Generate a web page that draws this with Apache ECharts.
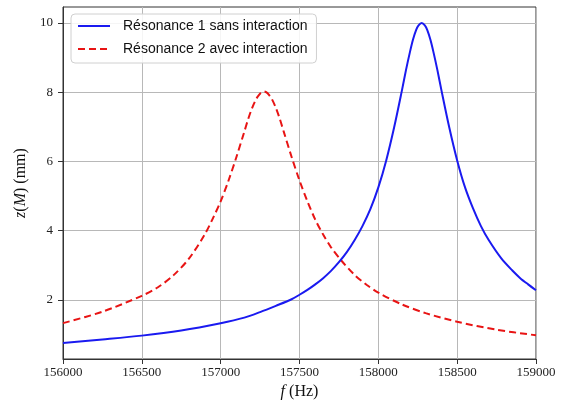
<!DOCTYPE html>
<html>
<head>
<meta charset="utf-8">
<script src="https://cdn.jsdelivr.net/npm/echarts@6/dist/echarts.min.js"></script>
<style>html,body{margin:0;padding:0;background:#fff}#c{width:565px;height:406px}</style>
</head>
<body>
<div id="c"></div>
<script>
// Frequencies (Hz) and amplitudes (mm)
const blueFreq = [156000,156250,156500,156750,157000,157150,157250,157350,157450,157500,157550,157600,157650,157700,157750,157800,157850,157900,157950,158000,158050,158100,158150,158175,158200,158220,158240,158255,158275,158295,158310,158330,158350,158375,158400,158450,158500,158550,158600,158650,158700,158780,158850,158900,158950,159000];
const blueVals = [0.76,0.86,0.97,1.12,1.33,1.49,1.65,1.83,2.02,2.15,2.29,2.45,2.63,2.84,3.09,3.38,3.73,4.14,4.63,5.25,6.03,6.98,8.06,8.63,9.15,9.52,9.8,9.93,10.0,9.93,9.8,9.52,9.15,8.63,8.06,6.98,6.03,5.25,4.65,4.14,3.73,3.2,2.85,2.63,2.45,2.28];
const redFreq = [156000,156250,156500,156600,156700,156800,156900,156950,157000,157050,157100,157150,157175,157200,157225,157240,157255,157275,157295,157310,157325,157350,157375,157400,157450,157500,157550,157600,157650,157700,157765,157850,157925,158000,158150,158300,158500,158750,159000];
const redVals = [1.33,1.66,2.12,2.36,2.71,3.2,3.9,4.35,4.85,5.45,6.13,6.86,7.23,7.55,7.8,7.9,7.98,8.02,7.98,7.9,7.8,7.55,7.23,6.86,6.13,5.45,4.85,4.32,3.89,3.52,3.14,2.72,2.44,2.21,1.87,1.62,1.37,1.14,0.98];
const xTicks = [156000,156500,157000,157500,158000,158500,159000];
const yTicks = [2,4,6,8,10];
const seriesNames = ['Résonance 1 sans interaction','Résonance 2 avec interaction'];

const pairs = (xs, ys) => xs.map((x, i) => [x, ys[i]]);
const serif = 'Liberation Serif';
const chart = echarts.init(document.getElementById('c'), null, {renderer: 'canvas'});
chart.setOption({
  animation: false,
  backgroundColor: '#fff',
  grid: {left: 63, right: 29, top: 7, bottom: 47, show: true, borderColor: '#333', borderWidth: 1, containLabel: false},
  legend: {
    orient: 'vertical', left: 71, top: 14,
    padding: [5, 9, 7, 6], itemGap: 9, itemWidth: 32, itemHeight: 14,
    backgroundColor: 'rgba(255,255,255,0.85)', borderColor: '#d0d0d0', borderWidth: 1, borderRadius: 4,
    itemStyle: {opacity: 0},
    textStyle: {fontFamily: 'Liberation Sans', fontSize: 14, color: '#111', padding: [0, 0, 0, 8]},
    data: seriesNames
  },
  xAxis: {
    type: 'value', min: xTicks[0], max: xTicks[xTicks.length - 1], interval: 500,
    name: '{i|f} (Hz)', nameLocation: 'middle', nameGap: 23,
    nameTextStyle: {fontFamily: serif, fontSize: 16, color: '#111', rich: {i: {fontFamily: serif, fontStyle: 'italic', fontSize: 16, color: '#111'}}},
    axisLine: {show: true, lineStyle: {color: '#333', width: 1}},
    axisTick: {show: true, inside: false, length: 5, lineStyle: {color: '#333'}},
    axisLabel: {fontFamily: serif, fontSize: 13, color: '#222', margin: 7, showMinLabel: true, showMaxLabel: true, formatter: v => String(v)},
    splitLine: {show: true, lineStyle: {color: '#b8b8b8', width: 1}}
  },
  yAxis: {
    type: 'value', min: 0.295, max: 10.46,
    name: '{i|z}({i|M}) (mm)', nameLocation: 'middle', nameGap: 27,
    nameTextStyle: {fontFamily: serif, fontSize: 16, color: '#111', rich: {i: {fontFamily: serif, fontStyle: 'italic', fontSize: 16, color: '#111'}}},
    axisLine: {show: true, lineStyle: {color: '#333', width: 1}},
    axisTick: {show: true, inside: false, length: 5, lineStyle: {color: '#333'}, customValues: yTicks},
    axisLabel: {fontFamily: serif, fontSize: 13, color: '#222', margin: 10, customValues: yTicks},
    splitLine: {show: true, lineStyle: {color: '#b8b8b8', width: 1}}
  },
  series: [
    {name: seriesNames[0], type: 'line', data: pairs(blueFreq, blueVals), showSymbol: false, symbol: 'none', smooth: 0.3,
     lineStyle: {color: '#1a1af0', width: 2}, itemStyle: {color: '#1a1af0'}, z: 3},
    {name: seriesNames[1], type: 'line', data: pairs(redFreq, redVals), showSymbol: false, symbol: 'none', smooth: 0.3,
     lineStyle: {color: '#e81414', width: 2, type: [7, 4]}, itemStyle: {color: '#e81414'}, z: 2}
  ]
});
</script>
</body>
</html>
